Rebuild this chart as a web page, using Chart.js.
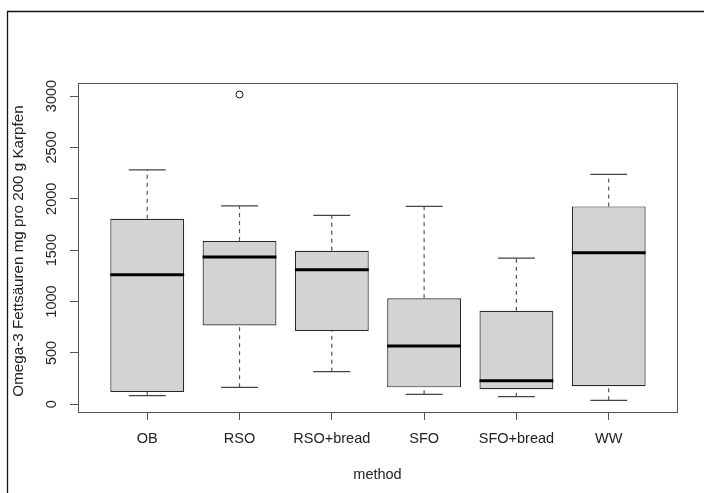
<!DOCTYPE html>
<html>
<head>
<meta charset="utf-8">
<script src="https://cdn.jsdelivr.net/npm/chart.js@4.4.1/dist/chart.umd.min.js"></script>
<style>
  html, body { margin: 0; padding: 0; background: #fff; }
  canvas { display: block; }
</style>
</head>
<body>
<canvas id="c" width="704" height="493"></canvas>
<script>
// ---- data ----
const categories   = ["OB", "RSO", "RSO+bread", "SFO", "SFO+bread", "WW"];
const whiskerLow   = [84, 165, 317, 97, 74, 39];
const q1           = [120, 768, 713, 165, 146, 175];
const medians      = [1261, 1433, 1309, 567, 230, 1475];
const q3           = [1805, 1589, 1494, 1031, 911, 1926];
const whiskerHigh  = [2282, 1932, 1838, 1926, 1423, 2237];
const outliers     = [{ group: 2, value: 3015 }];
const yTickValues  = [0, 500, 1000, 1500, 2000, 2500, 3000];
const yTitle = "Omega-3 Fettsäuren mg pro 200 g Karpfen";
const xTitle = "method";

// ---- build datasets ----
const FONT = "'Liberation Sans', Arial, sans-serif";
const positions = categories.map((_, i) => i + 1);

const boxData = positions.map((x, i) => ({ x: x, y: [q1[i], q3[i]] }));

function segments(list) {
  const pts = [];
  list.forEach(seg => { pts.push(seg[0], seg[1], { x: seg[1].x, y: null }); });
  return pts;
}
const medianPts = segments(positions.map((x, i) => [{ x: x - 0.4, y: medians[i] }, { x: x + 0.4, y: medians[i] }]));
const capPts = segments(positions.flatMap((x, i) => [
  [{ x: x - 0.2, y: whiskerLow[i] }, { x: x + 0.2, y: whiskerLow[i] }],
  [{ x: x - 0.2, y: whiskerHigh[i] }, { x: x + 0.2, y: whiskerHigh[i] }]
]));
const whiskerPts = segments(positions.flatMap((x, i) => [
  [{ x: x, y: whiskerLow[i] }, { x: x, y: q1[i] }],
  [{ x: x, y: q3[i] }, { x: x, y: whiskerHigh[i] }]
]));
const outlierPts = outliers.map(o => ({ x: o.group, y: o.value }));

const lineBase = { type: 'line', pointRadius: 0, tension: 0, spanGaps: false, fill: false };

const framePlugin = {
  id: 'frame',
  beforeDraw(chart) {
    const ctx = chart.ctx;
    ctx.save();
    ctx.fillStyle = '#fff';
    ctx.fillRect(0, 0, chart.width, chart.height);
    ctx.strokeStyle = '#111';
    ctx.lineWidth = 1.3;
    ctx.beginPath();
    ctx.moveTo(7.5, chart.height);
    ctx.lineTo(7.5, 11.5);
    ctx.lineTo(chart.width, 11.5);
    ctx.stroke();
    ctx.restore();
  },
  afterDraw(chart) {
    const ctx = chart.ctx;
    const a = chart.chartArea;
    ctx.save();
    ctx.strokeStyle = '#555';
    ctx.lineWidth = 1;
    ctx.strokeRect(Math.round(a.left) + 0.5, Math.round(a.top) + 0.5,
                   Math.round(a.right - a.left), Math.round(a.bottom - a.top));
    // rotated y tick labels (R style, parallel to axis)
    const ys = chart.scales.y;
    ctx.fillStyle = '#222';
    ctx.font = '14.5px ' + FONT;
    ctx.textAlign = 'center';
    ctx.textBaseline = 'middle';
    ys.ticks.forEach(t => {
      const py = ys.getPixelForValue(t.value);
      ctx.save();
      ctx.translate(52, py);
      ctx.rotate(-Math.PI / 2);
      ctx.fillText(String(t.value), 0, 0);
      ctx.restore();
    });
    // y axis title
    ctx.font = '15.2px ' + FONT;
    ctx.save();
    ctx.translate(19, (a.top + a.bottom) / 2 + 3.5);
    ctx.rotate(-Math.PI / 2);
    ctx.fillText(yTitle, 0, 0);
    ctx.restore();
    ctx.restore();
  }
};

new Chart(document.getElementById('c'), {
  type: 'bar',
  data: {
    datasets: [
      Object.assign({}, lineBase, { label: 'median', data: medianPts, borderColor: '#000', borderWidth: 3, order: 0 }),
      { type: 'scatter', label: 'outliers', data: outlierPts, pointStyle: 'circle', pointRadius: 3.5,
        pointBorderWidth: 1, pointBorderColor: '#111', pointBackgroundColor: 'rgba(255,255,255,0)', order: 0 },
      Object.assign({}, lineBase, { label: 'caps', data: capPts, borderColor: '#444', borderWidth: 1.2, order: 1 }),
      Object.assign({}, lineBase, { label: 'whiskers', data: whiskerPts, borderColor: '#555', borderWidth: 1.2, borderDash: [4, 4], order: 2 }),
      { type: 'bar', label: 'boxes', data: boxData, backgroundColor: '#d3d3d3', borderColor: '#2a2a2a',
        borderWidth: 1.2, borderSkipped: false, barPercentage: 0.8, categoryPercentage: 1, order: 5 }
    ]
  },
  options: {
    responsive: false,
    animation: false,
    events: [],
    layout: { padding: { top: 83, right: 27, left: 0, bottom: 0 } },
    plugins: { legend: { display: false }, tooltip: { enabled: false } },
    scales: {
      x: {
        type: 'linear',
        min: 0.25, max: 6.74,
        offset: false,
        afterBuildTicks: s => { s.ticks = positions.map(v => ({ value: v })); },
        afterFit: s => { s.height = 81; },
        grid: { display: true, drawOnChartArea: false, drawTicks: true, tickLength: 8, color: '#555', offset: false },
        border: { display: false },
        ticks: {
          autoSkip: false, maxRotation: 0, padding: 10, color: '#222',
          font: { family: FONT, size: 14.5 },
          callback: v => categories[v - 1]
        },
        title: { display: true, text: xTitle, color: '#222', font: { family: FONT, size: 14.5 }, padding: { top: 0, bottom: 9 } }
      },
      y: {
        type: 'linear',
        min: -75, max: 3127,
        afterBuildTicks: s => { s.ticks = yTickValues.map(v => ({ value: v })); },
        afterFit: s => { s.width = 78; },
        grid: { display: true, drawOnChartArea: false, drawTicks: true, tickLength: 8, color: '#555' },
        border: { display: false },
        ticks: { display: false },
        title: { display: false }
      }
    }
  },
  plugins: [framePlugin]
});
</script>
</body>
</html>
